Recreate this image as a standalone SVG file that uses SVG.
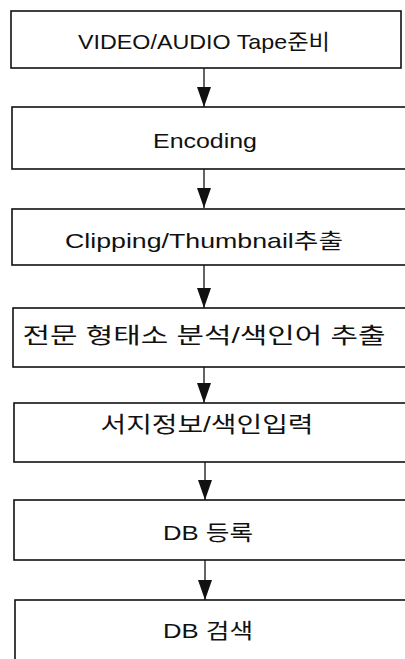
<svg xmlns="http://www.w3.org/2000/svg" width="405" height="659" viewBox="0 0 405 659">
<style>
.box{fill:#fff;stroke:#111;stroke-width:1.6}
.t{font-family:"Liberation Sans","Noto Sans CJK KR",sans-serif;font-size:21px;fill:#111;text-anchor:middle}
.c{stroke:#111;stroke-width:1.3;fill:none}
</style>
<defs>
<marker id="ah" viewBox="0 0 20 14" refX="20" refY="7" markerWidth="20" markerHeight="14" markerUnits="userSpaceOnUse" orient="auto">
<path d="M0,0 L20,7 L0,14 Z" fill="#111"/>
</marker>
</defs>
<rect width="405" height="659" fill="#fff"/>
<g id="connectors">
<line class="c" x1="204" y1="68" x2="204" y2="107" marker-end="url(#ah)"/>
<line class="c" x1="204" y1="169" x2="204" y2="208" marker-end="url(#ah)"/>
<line class="c" x1="204" y1="265" x2="204" y2="308" marker-end="url(#ah)"/>
<line class="c" x1="204" y1="367" x2="204" y2="403" marker-end="url(#ah)"/>
<line class="c" x1="205" y1="462" x2="205" y2="500" marker-end="url(#ah)"/>
<line class="c" x1="205" y1="560" x2="205" y2="600" marker-end="url(#ah)"/>
</g>
<g id="n1">
<rect class="box" x="11" y="11" width="390" height="57"/>
<text class="t" x="204" y="49" textLength="252" lengthAdjust="spacingAndGlyphs">VIDEO/AUDIO Tape준비</text>
</g>
<g id="n2">
<rect class="box" x="12" y="107" width="400" height="62"/>
<text class="t" x="205" y="148" textLength="104" lengthAdjust="spacingAndGlyphs">Encoding</text>
</g>
<g id="n3">
<rect class="box" x="12" y="209" width="400" height="56"/>
<text class="t" x="204" y="248" textLength="278" lengthAdjust="spacingAndGlyphs">Clipping/Thumbnail추출</text>
</g>
<g id="n4">
<rect class="box" x="13" y="308" width="400" height="59"/>
<text class="t" x="204" y="343" textLength="363" lengthAdjust="spacingAndGlyphs" style="font-size:22px">전문 형태소 분석/색인어 추출</text>
</g>
<g id="n5">
<rect class="box" x="14" y="403" width="400" height="59"/>
<text class="t" x="207" y="432" textLength="213" lengthAdjust="spacingAndGlyphs" style="font-size:22px">서지정보/색인입력</text>
</g>
<g id="n6">
<rect class="box" x="14" y="500" width="400" height="60"/>
<text class="t" x="208" y="540" textLength="90" lengthAdjust="spacingAndGlyphs">DB 등록</text>
</g>
<g id="n7">
<rect class="box" x="15" y="600" width="400" height="70"/>
<text class="t" x="208" y="638" textLength="90" lengthAdjust="spacingAndGlyphs">DB 검색</text>
</g>
</svg>
